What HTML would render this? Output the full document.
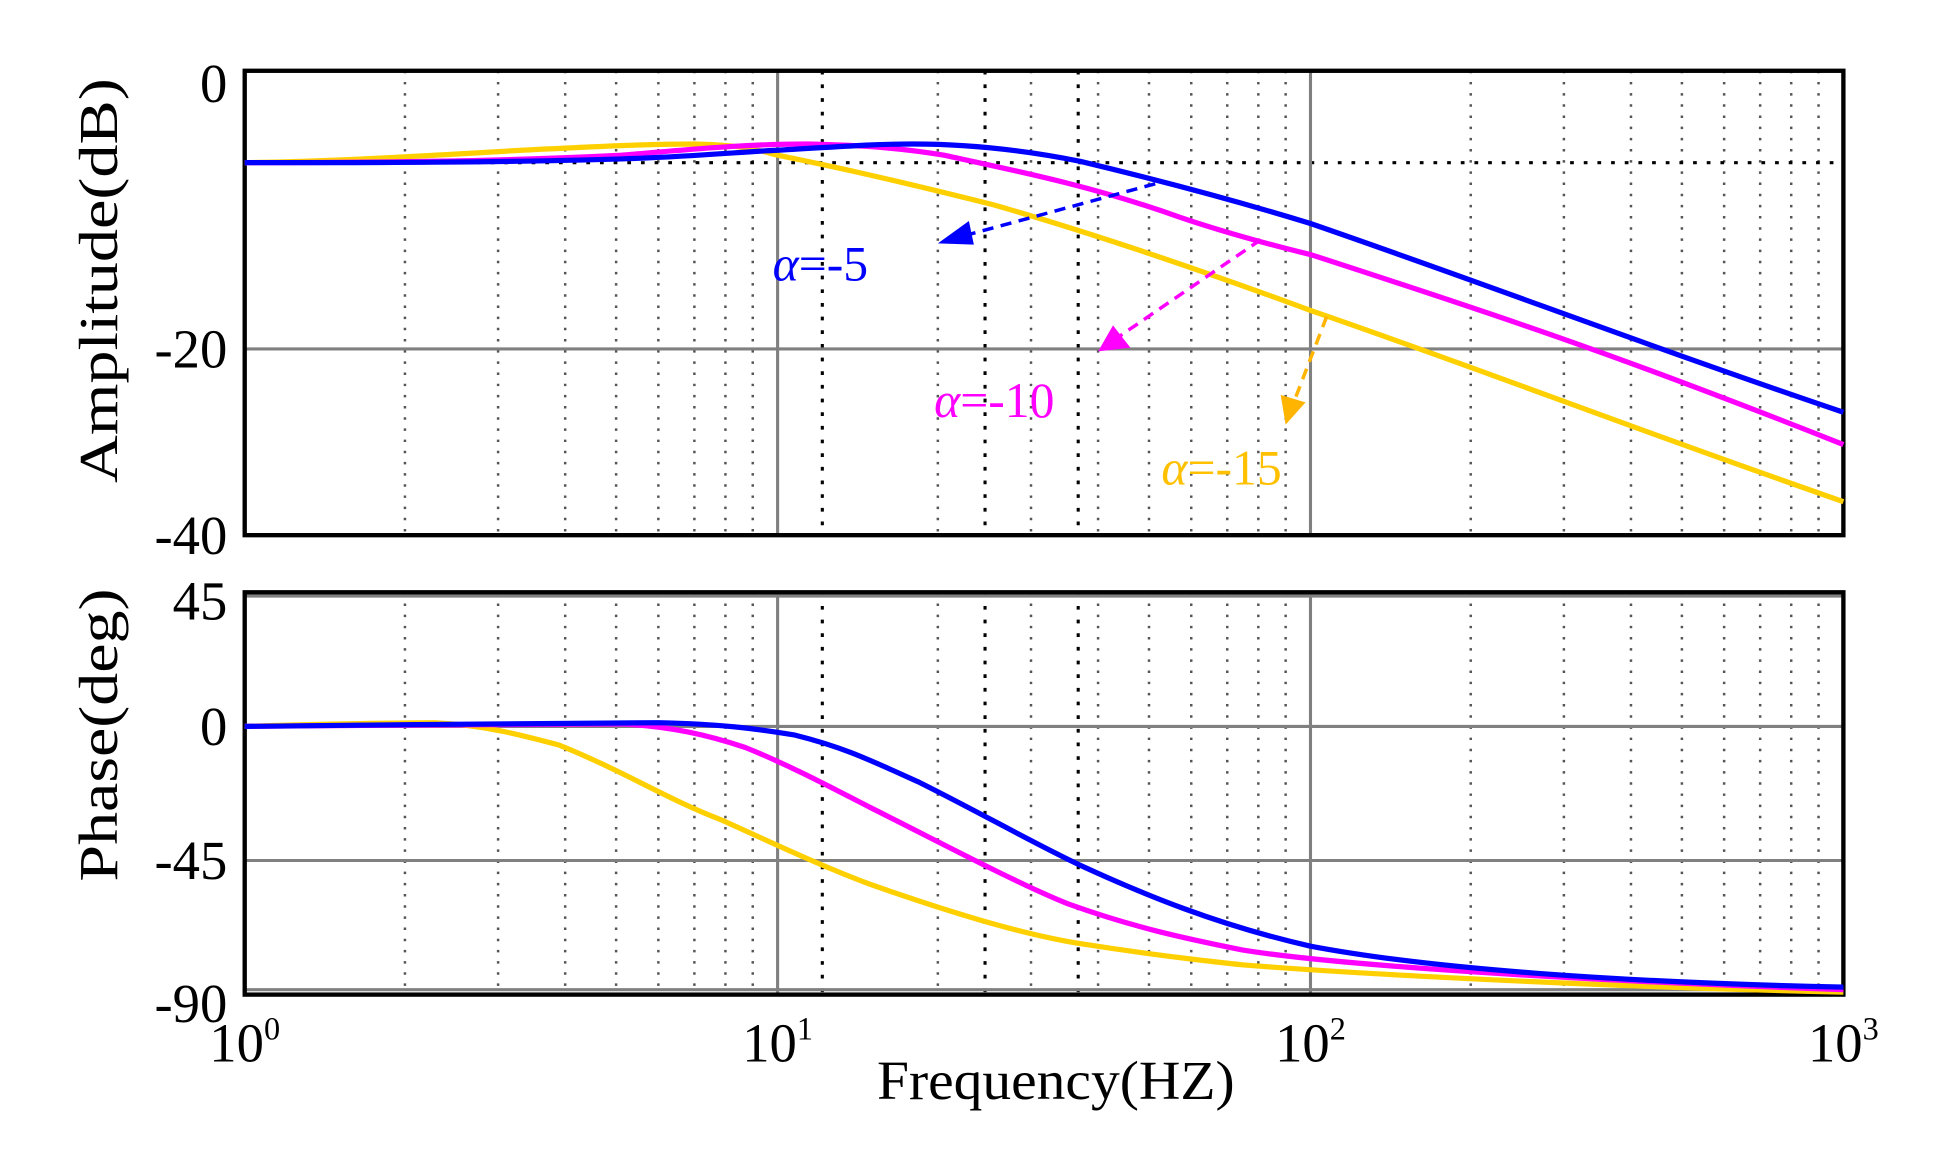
<!DOCTYPE html>
<html><head><meta charset="utf-8"><style>html,body{margin:0;padding:0;background:#fff}svg{display:block}text{font-family:"Liberation Serif",serif}</style></head><body>
<svg width="1944" height="1161" viewBox="0 0 1565 935" preserveAspectRatio="none" xmlns="http://www.w3.org/2000/svg">
<g fill="none">
<g stroke="#555" stroke-width="2" stroke-dasharray="2,7">
<path d="M326,57V431M401,57V431M455,57V431M496,57V431M530,57V431M559,57V431M584,57V431M606,57V431M755,57V431M830,57V431M884,57V431M925,57V431M959,57V431M988,57V431M1013,57V431M1035,57V431M1184,57V431M1259,57V431M1313,57V431M1354,57V431M1388,57V431M1417,57V431M1442,57V431M1464,57V431"/>
<path d="M326,477V801M401,477V801M455,477V801M496,477V801M530,477V801M559,477V801M584,477V801M606,477V801M755,477V801M830,477V801M884,477V801M925,477V801M959,477V801M988,477V801M1013,477V801M1035,477V801M1184,477V801M1259,477V801M1313,477V801M1354,477V801M1388,477V801M1417,477V801M1442,477V801M1464,477V801"/>
</g>
<g stroke="#000" stroke-width="2.5" stroke-dasharray="3,8">
<path d="M662,57V431M793,57V431M868,57V431M662,477V801M793,477V801M868,477V801"/>
<path d="M197,131H1484"/>
</g>
<g stroke="#808080" stroke-width="2.5">
<path d="M626,57V431M1055,57V431M197,281H1484M626,477V801M1055,477V801M197,585H1484M197,693H1484M197,797H1484M197,480H1484"/>
</g>
<g stroke="#000" stroke-width="3.5">
<rect x="197" y="57" width="1287" height="374"/>
<rect x="197" y="477" width="1287" height="324"/>
</g>
</g>
<g fill="none" stroke-width="4.2" stroke-linejoin="round">
<path stroke="#ffd000" d="M197,131 C260,130 300,128 420,121 C480,118 520,116 560,116 C600,117 610,121 626,125 C660,132 700,140 800,165 C880,188 960,215 1055,250 C1200,300 1300,340 1484,404"/>
<path stroke="#ff00ff" d="M197,131 C300,131 400,130 500,125 C560,120 600,116 650,116 C700,117 730,120 760,125 C820,138 880,150 950,175 C1000,192 1055,205 1055,205 C1200,252 1300,285 1484,358"/>
<path stroke="#0000ff" d="M197,131 C300,131 400,131 500,128 C560,126 600,122 626,121 C680,118 700,116 735,116 C790,116 840,124 870,130 C920,142 990,160 1055,180 C1200,230 1330,280 1484,332"/>
<path stroke="#ffd000" d="M197,585 C260,583 330,582 350,582 C390,584 420,592 450,600 C500,620 540,645 580,660 C620,678 660,697 700,712 C760,733 820,752 870,760 C940,771 1000,777 1000,777 C1100,785 1300,795 1484,799"/>
<path stroke="#ff00ff" d="M197,585 C300,584 450,583 500,583 C540,585 570,592 600,602 C640,618 680,640 700,650 C760,680 820,712 860,728 C910,746 950,755 1000,765 C1055,774 1200,787 1484,797"/>
<path stroke="#0000ff" d="M197,585 C300,584 450,582 530,582 C580,583 610,587 640,592 C680,602 700,612 740,630 C790,655 830,678 870,697 C920,720 980,745 1055,762 C1150,780 1300,791 1484,795"/>
</g>
<g fill="none" stroke-width="2.8" stroke-dasharray="9,6">
<path stroke="#0000ff" d="M930,148 L772,191"/>
<path stroke="#ff00ff" d="M1015,193 L898,273"/>
<path stroke="#ffb400" d="M1068,255 L1040,328"/>
</g>
<path fill="#0000ff" d="M755,196 L780,178 L784,197z"/>
<path fill="#ff00ff" d="M884,283 L896,262 L910,280z"/>
<path fill="#ffb400" d="M1035,342 L1031,318 L1051,324z"/>
<g font-size="44" fill="#000" text-anchor="end">
<text x="183" y="82">0</text>
<text x="183" y="296">-20</text>
<text x="183" y="446">-40</text>
<text x="183" y="499">45</text>
<text x="183" y="600">0</text>
<text x="183" y="708">-45</text>
<text x="183" y="823">-90</text>
</g>
<g font-size="44" fill="#000" text-anchor="middle">
<text x="197" y="855">10<tspan font-size="26" dy="-18">0</tspan></text>
<text x="626" y="855">10<tspan font-size="26" dy="-18">1</tspan></text>
<text x="1055" y="855">10<tspan font-size="26" dy="-18">2</tspan></text>
<text x="1484" y="855">10<tspan font-size="26" dy="-18">3</tspan></text>
<text x="850" y="885" font-size="44" textLength="288" lengthAdjust="spacingAndGlyphs">Frequency(HZ)</text>
<text transform="translate(94,226) rotate(-90)" font-size="44" textLength="326" lengthAdjust="spacingAndGlyphs">Amplitude(dB)</text>
<text transform="translate(94,592) rotate(-90)" font-size="44" textLength="236" lengthAdjust="spacingAndGlyphs">Phase(deg)</text>
</g>
<g font-size="40">
<text x="622" y="226" fill="#0000ff"><tspan font-style="italic">α</tspan>=-5</text>
<text x="752" y="336" fill="#ff00ff"><tspan font-style="italic">α</tspan>=-10</text>
<text x="935" y="390" fill="#ffc000"><tspan font-style="italic">α</tspan>=-15</text>
</g>
</svg>
</body></html>
